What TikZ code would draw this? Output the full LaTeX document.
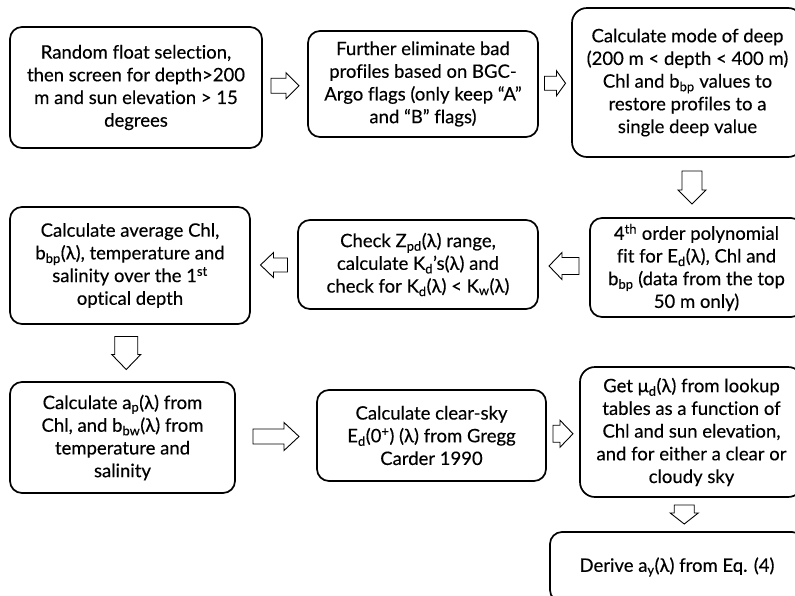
\documentclass[tikz,border=0pt]{standalone}
\usepackage{fontspec}
\setmainfont{Lato}[Ligatures=NoCommon, FakeBold=0.3]
\usetikzlibrary{calc}
\tikzset{
  box/.style={draw=black, line width=1.7pt, rounded corners=12pt, align=center,
    font=\fontsize{18.5pt}{22.7pt}\selectfont, inner sep=0pt},
  arrowline/.style={draw=black, line width=0.9pt, fill=white, line join=miter},
  pics/barrow/.style n args={4}{code={
    \draw[arrowline] (-#1/2,-#3/2) -- (#1/2-#4,-#3/2) -- (#1/2-#4,-#2/2) -- (#1/2,0)
      -- (#1/2-#4,#2/2) -- (#1/2-#4,#3/2) -- (-#1/2,#3/2) -- cycle;
  }}
}
\begin{document}
\begin{tikzpicture}
\useasboundingbox (0,0) rectangle (795pt,-595pt);
\fill[white] (0,0) rectangle (795pt,-595pt);
\begin{scope}
\clip (0,0) rectangle (795pt,-595pt);
\node[box, minimum width=252pt, minimum height=121pt] (b1) at (136pt,-87.5pt)
  {Random float selection,\\ then screen for depth>200\\ m and sun elevation > 15\\ degrees};
\node[box, minimum width=230pt, minimum height=106pt] (b2) at (423pt,-84pt)
  {Further eliminate bad\\ profiles based on BGC-\\ Argo flags (only keep “A”\\ and “B” flags)};
\node[box, minimum width=231pt, minimum height=149pt, rounded corners=15pt] (b3) at (687.5pt,-82.5pt)
  {Calculate mode of deep\\ (200 m < depth < 400 m)\\ Chl and b\textsubscript{bp} values to\\ restore profiles to a\\ single deep value};
\node[box, minimum width=213pt, minimum height=99pt] (b4) at (696.5pt,-267.5pt)
  {4\textsuperscript{th} order polynomial\\ fit for E\textsubscript{d}(λ), Chl and\\ b\textsubscript{bp} (data from the top\\ 50 m only)};
\node[box, minimum width=240pt, minimum height=89pt] (b5) at (418pt,-264.5pt)
  {Check Z\textsubscript{pd}(λ) range,\\ calculate K\textsubscript{d}’s(λ) and\\ check for K\textsubscript{d}(λ) < K\textsubscript{w}(λ)};
\node[box, minimum width=240pt, minimum height=117pt] (b6) at (130pt,-265.5pt)
  {Calculate average Chl,\\ b\textsubscript{bp}(λ), temperature and\\ salinity over the 1\textsuperscript{st}\\ optical depth};
\node[box, minimum width=225pt, minimum height=111pt] (b7) at (122.5pt,-437.5pt)
  {Calculate a\textsubscript{p}(λ) from\\ Chl, and b\textsubscript{bw}(λ) from\\ temperature and\\ salinity};
\node[box, minimum width=229pt, minimum height=91pt] (b8) at (431.5pt,-435.5pt)
  {Calculate clear-sky\\ E\textsubscript{d}(0\textsuperscript{+}) (λ) from Gregg\\ Carder 1990};
\node[box, minimum width=223pt, minimum height=130pt, rounded corners=15pt] (b9) at (691.5pt,-432pt)
  {Get μ\textsubscript{d}(λ) from lookup\\ tables as a function of\\ Chl and sun elevation,\\ and for either a clear or\\ cloudy sky};
\node[box, minimum width=254pt, minimum height=70pt] (b10) at (677pt,-567pt)
  {Derive a\textsubscript{y}(λ) from Eq. (4)};
\end{scope}
\pic at ($(b1.east)!0.5!(b2.west)$) {barrow={28pt}{26pt}{15pt}{13pt}};
\pic at ($(b2.east)!0.5!(b3.west)$) {barrow={21pt}{25pt}{14pt}{9pt}};
\pic[rotate=-90] at ($(b3.south)!0.5!(b4.north)$) {barrow={33pt}{28pt}{20pt}{14pt}};
\pic[rotate=180] at ($(b4.west)!0.5!(b5.east)$) {barrow={30pt}{27pt}{17pt}{13pt}};
\pic[rotate=180] at ($(b5.west)!0.5!(b6.east)$) {barrow={27pt}{25pt}{14pt}{13pt}};
\pic[rotate=-90] at ($(b6.south)!0.5!(b7.north)$) {barrow={33pt}{29pt}{23pt}{15pt}};
\pic at ($(b7.east)!0.5!(b8.west)$) {barrow={46pt}{28pt}{15pt}{15pt}};
\pic at ($(b8.east)!0.5!(b9.west)$) {barrow={20pt}{27pt}{17pt}{13pt}};
\pic[rotate=-90] at ($(b9.south)!0.5!(b10.north)$) {barrow={19pt}{28pt}{20pt}{11pt}};
\end{tikzpicture}
\end{document}
